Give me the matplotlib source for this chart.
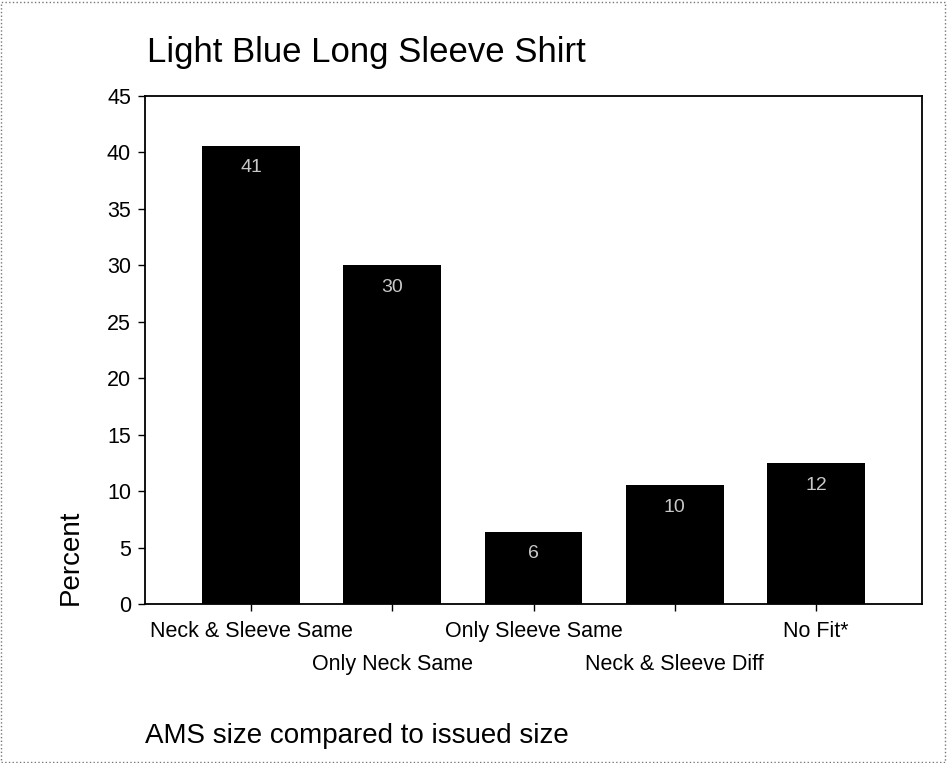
import matplotlib
matplotlib.use("Agg")
import matplotlib.pyplot as plt
from matplotlib.patches import Rectangle

# data
categories = ["Neck & Sleeve Same", "Only Neck Same", "Only Sleeve Same",
              "Neck & Sleeve Diff", "No Fit*"]
percent = [40.6, 30.0, 6.4, 10.5, 12.5]
bar_labels = ["41", "30", "6", "10", "12"]
y_ticks = [0, 5, 10, 15, 20, 25, 30, 35, 40, 45]

plt.rcParams["font.family"] = ["Liberation Sans", "DejaVu Sans"]

fig = plt.figure(figsize=(9.47, 7.63), dpi=100)
ax = fig.add_axes([145 / 947, 1 - 604 / 763, 777 / 947, 508 / 763])

x = range(len(categories))
bars = ax.bar(x, percent, width=0.69, color="black")

# value labels inside the top of each bar
for b, lab in zip(bars, bar_labels):
    ax.annotate(lab, (b.get_x() + b.get_width() / 2, b.get_height()),
                xytext=(0, -16), textcoords="offset points",
                ha="center", va="center", color="#c8c8c8", fontsize=14)

ax.set_xlim(-0.75, 4.75)
ax.set_ylim(0, 45)
ax.set_yticks(y_ticks)
ax.set_xticks(list(x))
ax.set_xticklabels(categories)
ax.tick_params(axis="both", labelsize=15.5, length=5, width=1, direction="out")
ax.tick_params(axis="y", pad=5)

# staggered category labels, two rows
for i, t in enumerate(ax.xaxis.get_major_ticks()):
    t.set_pad(7 if i % 2 == 0 else 31)

for s in ax.spines.values():
    s.set_linewidth(1.3)

fig.text(147 / 947, 1 - 62 / 763, "Light Blue Long Sleeve Shirt",
         fontsize=25, va="baseline", ha="left")
fig.text(145 / 947, 1 - 743 / 763, "AMS size compared to issued size",
         fontsize=20, va="baseline", ha="left")
fig.text(71 / 947, 1 - 605 / 763, "Percent", rotation=90,
         fontsize=20, ha="center", va="bottom")

# thin frame round the whole picture
fig.patches.append(Rectangle((0.001, 0.001), 0.997, 0.997, transform=fig.transFigure,
                             fill=False, edgecolor="#777777", linewidth=1, linestyle=":"))

fig.savefig("out.png", dpi=100)
